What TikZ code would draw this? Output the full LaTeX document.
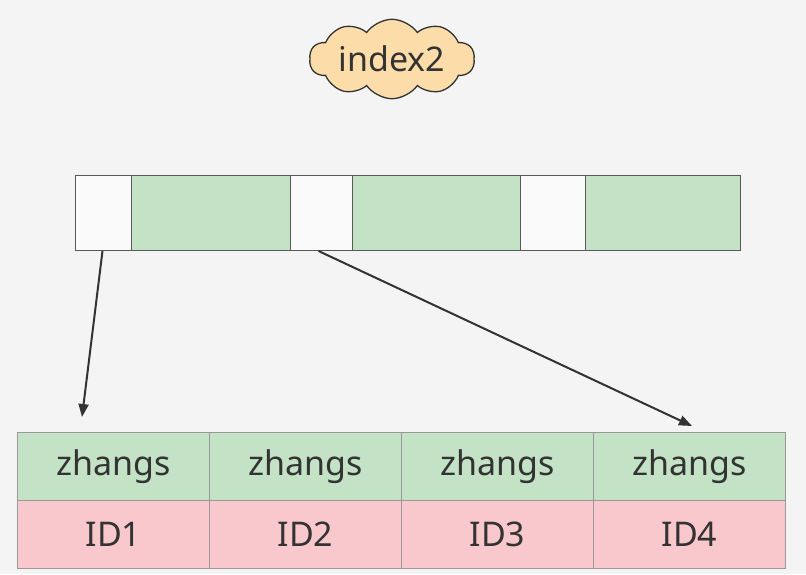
\documentclass[tikz,border=0pt]{standalone}
\usepackage{fontspec}
\setmainfont{Noto Sans}
\usetikzlibrary{arrows.meta,shapes.symbols}
\definecolor{bgcol}{HTML}{F4F4F4}
\definecolor{keycol}{HTML}{FAFAFA}
\definecolor{valcol}{HTML}{C4E2C6}
\definecolor{idcol}{HTML}{F9C8CC}
\definecolor{cloudcol}{HTML}{FCDDAA}
\definecolor{inkcol}{HTML}{333333}

\begin{document}
\begin{tikzpicture}[
  x=1pt, y=-1pt,
  font=\fontsize{34}{38}\selectfont,
  text=inkcol,
  cell/.style={draw=black!65, line width=1pt, anchor=north west, inner sep=0pt, minimum height=75pt},
  row/.style={draw=black!40, line width=1pt, anchor=north west, inner sep=0pt, minimum width=192pt, minimum height=68pt},
  arrow/.style={-{Triangle[length=13pt,width=10pt]}, line width=2pt, draw=inkcol}
]
\fill[bgcol] (0,0) rectangle (806,574);
\useasboundingbox (0,0) rectangle (806,574);

\node[cloud, cloud puffs=10, cloud puff arc=110, aspect=2.6, draw=inkcol, line width=1.3pt, fill=cloudcol,
      minimum width=165pt, minimum height=74pt, inner sep=0pt] (idx) at (392,59) {index2};

% upper index page
\node[cell, fill=keycol, minimum width=56pt] (k1) at (75,175) {};
\node[cell, fill=valcol, minimum width=159pt] (v1) at (131,175) {};
\node[cell, fill=keycol, minimum width=62pt] (k2) at (290,175) {};
\node[cell, fill=valcol, minimum width=168pt] (v2) at (352,175) {};
\node[cell, fill=keycol, minimum width=65pt] (k3) at (520,175) {};
\node[cell, fill=valcol, minimum width=155pt] (v3) at (585,175) {};

% leaf rows
\node[row, fill=valcol] (n1) at (17,432) {zhangs};
\node[row, fill=valcol] (n2) at (209,432) {zhangs};
\node[row, fill=valcol] (n3) at (401,432) {zhangs};
\node[row, fill=valcol] (n4) at (593,432) {zhangs};
\node[row, fill=idcol] (id1) at (17,500) {ID1};
\node[row, fill=idcol] (id2) at (209,500) {ID2};
\node[row, fill=idcol] (id3) at (401,500) {ID3};
\node[row, fill=idcol] (id4) at (593,500) {ID4};

\coordinate (t1) at (82,417);
\coordinate (t2) at (692,426);
\draw[arrow] ([xshift=-1pt]k1.south) -- (t1);
\draw[arrow] ([xshift=-3pt]k2.south) -- (t2);

\end{tikzpicture}
\end{document}
